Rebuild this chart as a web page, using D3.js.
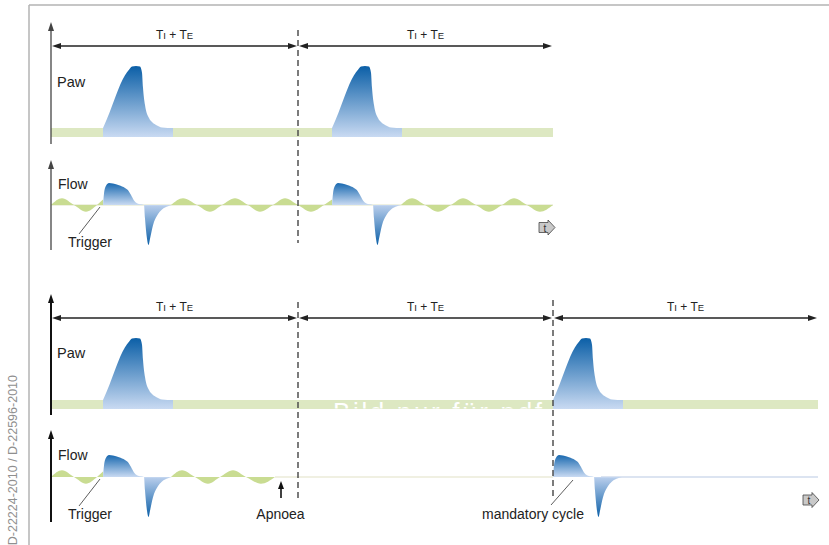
<!DOCTYPE html>
<html><head><meta charset="utf-8">
<script src="https://cdn.jsdelivr.net/npm/d3@7"></script>
<style>html,body{margin:0;padding:0;background:#fff;}svg{display:block;font-family:"Liberation Sans",Arial,Helvetica,sans-serif;}</style>
</head><body>
<script>
// ---------- DATA (time units, 1 unit ≈ 0.1 s) ----------
const cycleBoundsTop = [0, 24.7, 50.2];
const cycleBoundsBottom = [0, 24.7, 50.2, 76.7];
const cycleLabel = ["T", "I", " + T", "E"];

// Paw pulse shape: time offset from start, value (relative pressure)
const pawPulseT = [0, 0.4, 2.2, 2.6, 2.9, 3.3, 3.7, 3.9, 4.0, 4.2, 4.6, 4.9, 5.3, 5.9, 7.0];
const pawPulseV = [0, 1.5, 8.5, 9.4, 9.9, 10, 9.9, 8.9, 6.5, 3.7, 1.6, 0.95, 0.5, 0.1, 0];

// Flow pulse shape: inspiration (positive) then expiration (negative)
const flowPulseT = [0, 0.1, 0.3, 0.6, 1.0, 1.6, 2.2, 2.5, 2.8, 3.1, 3.4, 3.8, 4.1, 4.2, 4.4, 4.55, 4.7, 5.0, 5.4, 5.9, 6.5, 6.9];
const flowPulseV = [0, 2.5, 4.3, 4.9, 4.8, 4.4, 3.8, 3.3, 2.2, 1.0, 0.4, 0.15, 0, -3, -7.5, -8.9, -7.5, -4.5, -2.4, -1.0, -0.3, 0];

// Pulse start times
const topPulseStarts = [5.2, 28.1];
const bottomPulseStarts = [5.2, 50.2];

// Spontaneous breathing effort (flow) segments
const breathTopA_T = [0, 1.1, 2.3, 3.5, 4.6, 5.2];
const breathTopA_V = [0, 1.5, 0, -1.5, 0, 1.2];
const breathTopB_T = [12.0, 13.2, 14.6, 15.9, 17.1, 18.4, 19.7, 20.9, 22.2, 23.4, 24.7, 26.0, 27.3, 28.1];
const breathTopB_V = [0, 1.5, 0, -1.5, 0, 1.5, 0, -1.5, 0, 1.5, 0, -1.5, 0, 1.2];
const breathTopC_T = [35.0, 36.1, 37.4, 38.7, 40.0, 41.2, 42.5, 43.8, 45.1, 46.3, 47.6, 48.9, 50.2];
const breathTopC_V = [0, 1.5, 0, -1.5, 0, 1.5, 0, -1.5, 0, 1.5, 0, -1.5, 0];
const breathBotB_T = [12.0, 13.1, 14.4, 15.7, 16.9, 18.2, 19.5, 21.0, 22.4];
const breathBotB_V = [0, 1.5, 0, -1.5, 0, 1.5, 0, -1.5, 0];

const apnoeaT = 23.0;
const triggerT = 4.9;
const mandatoryT = 52.2;

// ---------- DRAWING ----------
const W = 829, H = 545;
const svg = d3.select("body").append("svg").attr("width", W).attr("height", H);
const defs = svg.append("defs");

const x = d3.scaleLinear().domain([0, 76.7]).range([51, 818]);
const zip = (t, v, off = 0) => t.map((d, i) => [d + off, v[i]]);

const C = {
  band: "#dde8c2", wave: "#c9dc92", dark: "#0b5fa7", light: "#c9daf2",
  ink: "#222", axisTop: "#444", axisBot: "#111"
};

// frame
svg.append("line").attr("x1", 29).attr("y1", 5).attr("x2", W).attr("y2", 5).attr("stroke", "#b3b3b3").attr("stroke-width", 1.5);
svg.append("line").attr("x1", 29).attr("y1", 5).attr("x2", 29).attr("y2", H).attr("stroke", "#b3b3b3").attr("stroke-width", 1.5);
svg.append("text").attr("transform", "translate(16.5,375) rotate(-90)").attr("text-anchor", "end")
  .attr("font-size", 12.5).attr("fill", "#8f8f8f").text("D-22224-2010 / D-22596-2010");

function gradient(id, y1, stops) {
  const g = defs.append("linearGradient").attr("id", id).attr("gradientUnits", "userSpaceOnUse")
    .attr("x1", 0).attr("x2", 0).attr("y1", y1[0]).attr("y2", y1[1]);
  stops.forEach(s => g.append("stop").attr("offset", s[0]).attr("stop-color", s[1]));
}

function arrowHead(g, tipX, tipY, dir, len = 9, half = 3, color = C.ink) {
  let p;
  if (dir === "l") p = [[tipX, tipY], [tipX + len, tipY - half], [tipX + len, tipY + half]];
  else if (dir === "r") p = [[tipX, tipY], [tipX - len, tipY - half], [tipX - len, tipY + half]];
  else p = [[tipX, tipY], [tipX - half, tipY + len], [tipX + half, tipY + len]];
  g.append("path").attr("d", d3.line()(p) + "Z").attr("fill", color);
}

function tIcon(g, x0, yc) {
  const d = `M${x0},${yc - 5} H${x0 + 9} V${yc - 7.5} L${x0 + 16},${yc} L${x0 + 9},${yc + 7.5} V${yc + 5} H${x0} Z`;
  g.append("path").attr("d", d).attr("fill", "#c9c9c9").attr("stroke", "#444").attr("stroke-width", 0.8);
  g.append("text").attr("x", x0 + 6).attr("y", yc + 4).attr("text-anchor", "middle").attr("font-size", 10)
    .attr("fill", "#333").text("t");
}

function cycleText(g, cx, y) {
  const t = g.append("text").attr("x", cx).attr("y", y).attr("text-anchor", "middle").attr("fill", C.ink).attr("font-size", 12);
  t.append("tspan").text(cycleLabel[0]);
  t.append("tspan").attr("font-size", 9.5).text(cycleLabel[1]);
  t.append("tspan").text(cycleLabel[2]);
  t.append("tspan").attr("font-size", 9.5).text(cycleLabel[3]);
}

function panel(cfg) {
  const g = svg.append("g");
  const pawY = d3.scaleLinear().domain([0, 10]).range([cfg.pawBase, cfg.pawBase - 62]);
  const flowY = d3.scaleLinear().domain([-10, 10]).range([cfg.flowBase + 45, cfg.flowBase - 45]);
  const bandBottom = cfg.pawBase + 9;
  const endT = cfg.bounds[cfg.bounds.length - 1];

  gradient(cfg.id + "paw", [pawY(10), bandBottom], [[0, C.dark], [1, C.light]]);
  gradient(cfg.id + "flow", [flowY(5), flowY(-9)], [[0, "#1566ae"], [0.357, "#c9daf2"], [0.38, "#b4cbea"], [1, "#0b5fa7"]]);

  // Paw band
  g.append("rect").attr("x", x(0)).attr("y", cfg.pawBase).attr("width", x(endT) - x(0)).attr("height", 9).attr("fill", C.band);
  if (cfg.watermark) {
    const cid = cfg.id + "clip";
    defs.append("clipPath").attr("id", cid).append("rect").attr("x", x(0)).attr("y", cfg.pawBase + 1.5)
      .attr("width", x(endT) - x(0)).attr("height", 7);
    g.append("text").attr("clip-path", `url(#${cid})`).attr("x", 333).attr("y", cfg.pawBase + 21)
      .attr("font-size", 26).attr("letter-spacing", 3).attr("fill", "#fff")
      .attr("textLength", 212).text(cfg.watermark);
  }
  // Paw pulses
  const pawArea = d3.area().x(d => x(d[0])).y0(bandBottom).y1(d => pawY(d[1])).curve(d3.curveMonotoneX);
  cfg.pulses.forEach(s => {
    g.append("path").attr("d", pawArea(zip(pawPulseT, pawPulseV, s))).attr("fill", `url(#${cfg.id}paw)`);
  });

  // Flow baseline
  cfg.baselines.forEach(b => {
    g.append("line").attr("x1", x(b[0])).attr("x2", x(b[1])).attr("y1", cfg.flowBase).attr("y2", cfg.flowBase)
      .attr("stroke", b[2]).attr("stroke-width", 1.2);
  });
  // Breathing waves
  const waveArea = d3.area().x(d => x(d[0])).y0(cfg.flowBase).y1(d => flowY(d[1])).curve(d3.curveMonotoneX);
  cfg.waves.forEach(w => {
    g.append("path").attr("d", waveArea(zip(w[0], w[1]))).attr("fill", C.wave);
  });
  // Flow pulses
  const flowArea = d3.area().x(d => x(d[0])).y0(cfg.flowBase).y1(d => flowY(d[1])).curve(d3.curveMonotoneX);
  cfg.pulses.forEach(s => {
    g.append("path").attr("d", flowArea(zip(flowPulseT, flowPulseV, s))).attr("fill", `url(#${cfg.id}flow)`);
  });

  // axes
  const ac = cfg.axisColor, aw = cfg.axisWidth;
  g.append("line").attr("x1", 51).attr("x2", 51).attr("y1", cfg.pawAxis[0] + 6).attr("y2", cfg.pawAxis[1]).attr("stroke", ac).attr("stroke-width", aw);
  arrowHead(g, 51, cfg.pawAxis[0], "u", 9, 3, ac);
  g.append("line").attr("x1", 51).attr("x2", 51).attr("y1", cfg.flowAxis[0] + 6).attr("y2", cfg.flowAxis[1]).attr("stroke", ac).attr("stroke-width", aw);
  arrowHead(g, 51, cfg.flowAxis[0], "u", 9, 3, ac);

  // dashed cycle lines
  cfg.dashed.forEach(d => {
    g.append("line").attr("x1", x(d[0])).attr("x2", x(d[0])).attr("y1", d[1]).attr("y2", d[2])
      .attr("stroke", "#444").attr("stroke-width", 1.4).attr("stroke-dasharray", "6,4");
  });

  // dimension arrows
  for (let i = 0; i < cfg.bounds.length - 1; i++) {
    const a = x(cfg.bounds[i]) + 1, b = x(cfg.bounds[i + 1]) - 1;
    g.append("line").attr("x1", a + 4).attr("x2", b - 4).attr("y1", cfg.dimY).attr("y2", cfg.dimY).attr("stroke", C.ink).attr("stroke-width", 1.6);
    arrowHead(g, a, cfg.dimY, "l");
    arrowHead(g, b, cfg.dimY, "r");
    cycleText(g, (a + b) / 2, cfg.dimY - 7);
  }

  // labels
  g.append("text").attr("x", 57).attr("y", cfg.pawLabelY).attr("font-size", 14.5).attr("fill", C.ink).text("Paw");
  g.append("text").attr("x", 58).attr("y", cfg.flowLabelY).attr("font-size", 14).attr("fill", C.ink).text("Flow");

  // trigger
  g.append("line").attr("x1", 79).attr("y1", cfg.flowBase + 29).attr("x2", x(triggerT)).attr("y2", cfg.flowBase + 2)
    .attr("stroke", "#333").attr("stroke-width", 0.8);
  g.append("text").attr("x", 90).attr("y", cfg.flowBase + 42).attr("text-anchor", "middle").attr("font-size", 14).attr("fill", C.ink).text("Trigger");

  tIcon(g, cfg.icon[0], cfg.icon[1]);
  return { g, flowY };
}

panel({
  id: "top", pawBase: 128, flowBase: 205, bounds: cycleBoundsTop, pulses: topPulseStarts,
  waves: [[breathTopA_T, breathTopA_V], [breathTopB_T, breathTopB_V], [breathTopC_T, breathTopC_V]],
  baselines: [[0, 50.2, "#dfe4c6"]],
  axisColor: C.axisTop, axisWidth: 1.3, pawAxis: [22, 144], flowAxis: [160, 250],
  dashed: [[24.7, 30, 243]], dimY: 46, pawLabelY: 87, flowLabelY: 189, icon: [539, 227.5]
});

const bot = panel({
  id: "bot", pawBase: 400, flowBase: 477, bounds: cycleBoundsBottom, pulses: bottomPulseStarts,
  waves: [[breathTopA_T, breathTopA_V], [breathBotB_T, breathBotB_V]],
  baselines: [[22.4, 50.2, "#e2e2c6"], [55.0, 76.7, "#b9cae3"]],
  axisColor: C.axisBot, axisWidth: 2, pawAxis: [294, 415], flowAxis: [430, 522],
  dashed: [[24.7, 302, 499], [50.2, 300, 500]], dimY: 318, pawLabelY: 358, flowLabelY: 460, icon: [803, 500],
  watermark: "Bild nur für pdf"
});

// Apnoea
bot.g.append("line").attr("x1", x(apnoeaT)).attr("x2", x(apnoeaT)).attr("y1", 488).attr("y2", 498).attr("stroke", "#111").attr("stroke-width", 1.6);
arrowHead(bot.g, x(apnoeaT), 481, "u", 8, 3, "#111");
bot.g.append("text").attr("x", x(apnoeaT) - 0.5).attr("y", 519).attr("text-anchor", "middle").attr("font-size", 14).attr("fill", C.ink).text("Apnoea");

// mandatory cycle
bot.g.append("line").attr("x1", 551).attr("y1", 505).attr("x2", x(mandatoryT)).attr("y2", 480).attr("stroke", "#333").attr("stroke-width", 0.8);
bot.g.append("text").attr("x", 533).attr("y", 519).attr("text-anchor", "middle").attr("font-size", 14).attr("fill", C.ink).text("mandatory cycle");
</script>
</body></html>
